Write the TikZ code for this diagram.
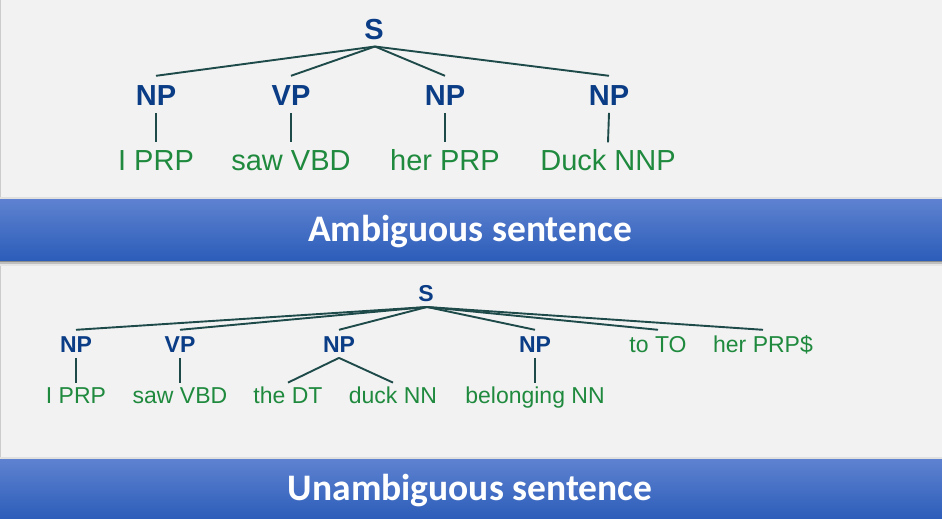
\documentclass[tikz,border=0pt]{standalone}
\usepackage{fontspec}
\setmainfont{Liberation Sans}
\newfontfamily\bandfont{Carlito}
\definecolor{bg}{HTML}{F2F2F2}
\definecolor{lab}{HTML}{0B3D86}
\definecolor{leaf}{HTML}{1F8A3E}
\definecolor{edge}{HTML}{1E4A4A}
\definecolor{bandtop}{HTML}{5E82D0}
\definecolor{bandbot}{HTML}{2C5DB9}
\tikzset{
  txA/.style={inner sep=0pt, text height=21pt, text depth=6pt},
  txB/.style={inner sep=0pt, text height=16.6pt, text depth=4.8pt},
  catA/.style={txA, text=lab, font=\fontsize{29}{30}\selectfont\bfseries},
  leafA/.style={txA, text=leaf, font=\fontsize{29}{30}\selectfont},
  catB/.style={txB, text=lab, font=\fontsize{23}{24}\selectfont\bfseries},
  leafB/.style={txB, text=leaf, font=\fontsize{23}{24}\selectfont},
  br/.style={draw=edge, line width=1.9pt},
  band/.style={top color=bandtop, bottom color=bandbot, draw=none},
  bandtext/.style={text=white, font=\bandfont\fontsize{37.5}{39}\selectfont\bfseries},
}
\begin{document}
\begin{tikzpicture}[x=1pt,y=-1pt]
\useasboundingbox (0,0) rectangle (942,519);
\fill[bg] (0,0) rectangle (942,519);
% panel border lines
\draw[gray!40, line width=1pt] (0.5,0) -- (0.5,198);
\draw[gray!40, line width=1pt] (0.5,265) -- (0.5,458);
% shadows
\fill[black!45] (0,260) rectangle (942,262);
\fill[black!25] (0,262) rectangle (942,264);
\fill[black!10] (0,264) rectangle (942,266);
\fill[black!12] (0,197) rectangle (942,199);
\fill[black!12] (0,457) rectangle (942,459);
% bands
\path[band] (0,199) rectangle (942,260);
\path[band] (0,459) rectangle (942,519);
\node[bandtext] (t1) at (470,232) {Ambiguous sentence};
\node[bandtext] (t2) at (470,491) {Unambiguous sentence};

% top tree
\node[catA] (S) at (374,32.5) {S};
\node[catA] (n1) at (156,98) {NP};
\node[catA] (n2) at (291,98) {VP};
\node[catA] (n3) at (445,98) {NP};
\node[catA] (n4) at (609,98) {NP};
\node[leafA] (l1) at (156,163) {I PRP};
\node[leafA] (l2) at (291,163) {saw VBD};
\node[leafA] (l3) at (445,163) {her PRP};
\node[leafA] (l4) at (608,163) {Duck NNP};
\coordinate (sA) at (375,46.5);
\foreach \n in {n1,n2,n3,n4}{
  \draw[br] (sA) -- ([yshift=8.5pt]\n.north);
}
\foreach \n/\l in {n1/l1,n2/l2,n3/l3,n4/l4}{
  \draw[br] ([yshift=-1.2pt]\n.south) -- ([yshift=7pt]\l.north);
}

% bottom tree
\node[catB] (S2) at (426,295.4) {S};
\node[catB] (m1) at (76,347) {NP};
\node[catB] (m2) at (180,347) {VP};
\node[catB] (m3) at (339,347) {NP};
\node[catB] (m4) at (535,347) {NP};
\node[leafB] (m5) at (658,347) {to TO};
\node[leafB] (m6) at (763,347) {her PRP\$};
\node[leafB] (k1) at (76,398) {I PRP};
\node[leafB] (k2) at (180,398) {saw VBD};
\node[leafB] (k3) at (288,398) {the DT};
\node[leafB] (k4) at (393,398) {duck NN};
\node[leafB] (k5) at (535,398) {belonging NN};
\coordinate (sB) at (427,307);
\foreach \n in {m1,m2,m3,m4,m5,m6}{
  \draw[br] (sB) -- ([yshift=6.3pt]\n.north);
}
\draw[br] (m1.south) -- ([yshift=4.5pt]k1.north);
\draw[br] (m2.south) -- ([yshift=4.5pt]k2.north);
\draw[br] (m4.south) -- ([yshift=4.5pt]k5.north);
\coordinate (npB) at (m3.south);
\draw[br] (npB) -- ([yshift=4.5pt]k3.north);
\draw[br] (npB) -- ([yshift=4.5pt]k4.north);
\end{tikzpicture}
\end{document}
